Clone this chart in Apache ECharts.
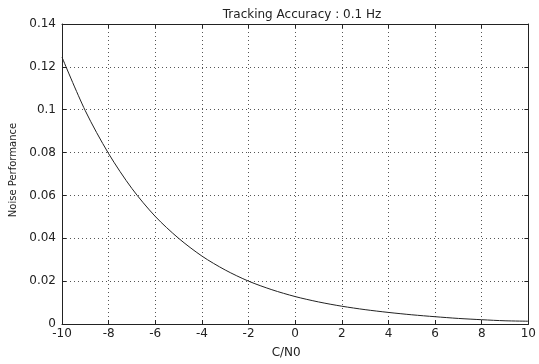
<!DOCTYPE html>
<html>
<head>
<meta charset="utf-8">
<script src="https://cdn.jsdelivr.net/npm/echarts@6/dist/echarts.min.js"></script>
<style>
  html, body { margin: 0; padding: 0; background: #fff; }
  #chart { width: 539px; height: 364px; }
</style>
</head>
<body>
<div id="chart"></div>
<script>
// data
const cn0 = [-10, -9, -8, -7, -6, -5, -4, -3, -2, -1, 0, 1, 2, 3, 4, 5, 6, 7, 8, 9, 10];
const noise = [0.1245, 0.0995, 0.0795, 0.0632, 0.0502, 0.0400, 0.0317, 0.0252, 0.0200, 0.0160, 0.0128,
  0.0103, 0.0083, 0.0067, 0.0054, 0.0043, 0.0034, 0.0026, 0.0020, 0.0015, 0.0013];

const xTicks = { min: -10, max: 10, step: 2 };
const yTicks = { min: 0, max: 0.14, step: 0.02 };

const font = 'DejaVu Sans, Arial, sans-serif';
const ink = '#222';

const chart = echarts.init(document.getElementById('chart'));

const baseAxis = {
  type: 'value',
  axisLine: { show: true, onZero: false, lineStyle: { color: ink, width: 1 } },
  axisTick: { show: true, inside: true, length: 4, lineStyle: { color: ink } },
  axisLabel: { color: ink, fontFamily: font, fontSize: 12 },
  splitLine: { show: false }
};

const gridLine = { show: true, lineStyle: { color: '#555', type: [1, 3], width: 1 } };

chart.setOption({
  animation: false,
  title: {
    text: 'Tracking Accuracy : 0.1 Hz',
    left: 297,
    textAlign: 'center',
    top: 4,
    textStyle: { color: ink, fontFamily: font, fontSize: 12, fontWeight: 'normal' }
  },
  grid: { left: 62, right: 7, top: 24, bottom: 36 },
  xAxis: [
    Object.assign({}, baseAxis, {
      min: xTicks.min, max: xTicks.max, interval: xTicks.step,
      name: 'C/N0', nameLocation: 'middle', nameGap: 23,
      nameTextStyle: { color: ink, fontFamily: font, fontSize: 12, padding: [0, 18, 0, 0] },
      axisLabel: { color: ink, fontFamily: font, fontSize: 12, margin: 4 },
      splitLine: gridLine
    }),
    Object.assign({}, baseAxis, {
      position: 'top',
      min: xTicks.min, max: xTicks.max, interval: xTicks.step,
      axisLabel: { show: false }
    })
  ],
  yAxis: [
    Object.assign({}, baseAxis, {
      min: yTicks.min, max: yTicks.max, interval: yTicks.step,
      name: 'Noise Performance', nameLocation: 'middle', nameGap: 44,
      nameTextStyle: { color: ink, fontFamily: font, fontSize: 10, padding: [0, 0, 0, 8] },
      axisLabel: { color: ink, fontFamily: font, fontSize: 12, margin: 6 },
      splitLine: gridLine
    }),
    Object.assign({}, baseAxis, {
      position: 'right',
      min: yTicks.min, max: yTicks.max, interval: yTicks.step,
      axisLabel: { show: false }
    })
  ],
  series: [{
    type: 'line',
    data: cn0.map((x, i) => [x, noise[i]]),
    smooth: 0.3,
    showSymbol: false,
    lineStyle: { color: ink, width: 1 }
  }]
});
</script>
</body>
</html>
